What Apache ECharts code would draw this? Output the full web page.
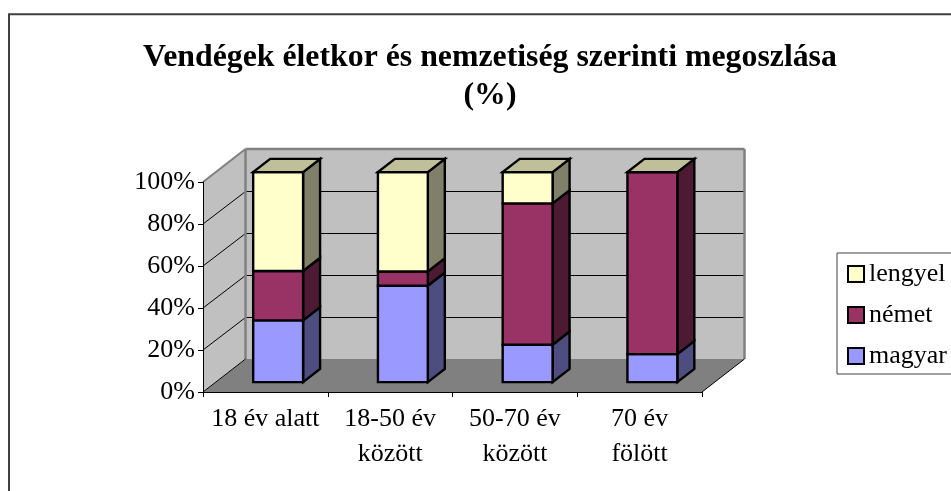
<!DOCTYPE html>
<html>
<head>
<meta charset="utf-8">
<style>html,body{margin:0;padding:0;background:#fff}#c{width:951px;height:491px}</style>
<script src="https://cdn.jsdelivr.net/npm/echarts@6/dist/echarts.min.js"></script>
</head>
<body>
<div id="c"></div>
<script>
const categories = ['18 év alatt', '18-50 év\nközött', '50-70 év\nközött', '70 év\nfölött'];
const magyar = [29.4, 45.9, 17.8, 13.3];
const nemet = [23.5, 6.8, 67.3, 86.7];
const lengyel = [47.1, 47.3, 14.9, 0];
const yTicks = [20, 40, 60, 80];

const FONT = '"Liberation Serif","Times New Roman",serif';
const DX = 42.5, DY = -33;

function poly(points, fill, stroke, lw) {
  return { type: 'polygon', shape: { points }, style: { fill, stroke, lineWidth: lw, lineJoin: 'miter' } };
}
function line(a, b, stroke, lw) {
  return { type: 'line', shape: { x1: a[0], y1: a[1], x2: b[0], y2: b[1] }, style: { stroke, lineWidth: lw } };
}

function renderWalls(params, api) {
  const band = api.size([1, 0])[0];
  const n = categories.length;
  const y0 = api.coord([0, 0])[1], y1 = api.coord([0, 100])[1];
  const xl = api.coord([0, 0])[0] - band / 2, xr = api.coord([n - 1, 0])[0] + band / 2;
  const kids = [
    poly([[xl + DX, y0 + DY], [xr + DX, y0 + DY], [xr, y0], [xl, y0]], '#808080', null, 0),
    poly([[xl, y1], [xl + DX, y1 + DY], [xl + DX, y0 + DY], [xl, y0]], '#C0C0C0', null, 0),
    poly([[xl + DX, y1 + DY], [xr + DX, y1 + DY], [xr + DX, y0 + DY], [xl + DX, y0 + DY]], '#C0C0C0', null, 0)
  ];
  yTicks.forEach(v => {
    const y = api.coord([0, v])[1];
    const yb = Math.round(y + DY) + 0.5;
    kids.push(line([xl, y], [xl + DX, yb], '#000', 1));
    kids.push(line([xl + DX, yb], [xr + DX, yb], '#000', 1));
  });
  kids.push(line([xl, y1], [xl + DX, y1 + DY], '#808080', 2));
  kids.push(line([xl + DX, y1 + DY], [xr + DX, y1 + DY], '#808080', 2.5));
  kids.push(line([xl + DX, y1 + DY], [xl + DX, y0 + DY], '#808080', 2.5));
  kids.push(line([xr + DX, y1 + DY], [xr + DX, y0 + DY], '#808080', 2.5));
  kids.push(line([xl, y0], [xl + DX, y0 + DY], '#000', 1));
  kids.push(line([xr, y0], [xr + DX, y0 + DY], '#000', 1));
  return { type: 'group', children: kids };
}

function segmentRenderer(front, side, top) {
  return function (params, api) {
    const band = api.size([1, 0])[0];
    const w = band * 0.4;
    const cx = api.coord([api.value(0), 0])[0];
    const yb = api.coord([0, api.value(1)])[1] + DY * 0.3;
    const yt = api.coord([0, api.value(2)])[1] + DY * 0.3;
    const x0 = cx - w / 2 + DX * 0.3, x1 = x0 + w;
    const dx = DX * 0.4, dy = DY * 0.4;
    const kids = [
      poly([[x1, yb], [x1 + dx, yb + dy], [x1 + dx, yt + dy], [x1, yt]], side, '#000', 2.4),
      poly([[x0, yb], [x1, yb], [x1, yt], [x0, yt]], front, '#000', 2.4)
    ];
    if (top) kids.push(poly([[x0, yt], [x1, yt], [x1 + dx, yt + dy], [x0 + dx, yt + dy]], top, '#000', 2.4));
    return { type: 'group', children: kids };
  };
}

function stackData(values, below) {
  return values.map((v, i) => [i, below[i], below[i] + v]);
}
const sum = (a, b) => a.map((v, i) => v + b[i]);
const zero = categories.map(() => 0);
const s1 = sum(zero, magyar), s2 = sum(s1, nemet);

const chart = echarts.init(document.getElementById('c'), null, { renderer: 'canvas' });
chart.setOption({
  animation: false,
  backgroundColor: '#fff',
  title: {
    text: 'Vendégek életkor és nemzetiség szerinti megoszlása\n(%)',
    left: 485, top: 33.5, textAlign: 'center',
    textStyle: { fontFamily: FONT, fontSize: 31.8, fontWeight: 'bold', color: '#000', lineHeight: 38 }
  },
  legend: {
    data: ['lengyel', 'német', 'magyar'],
    orient: 'vertical', left: 837, top: 253,
    padding: [8, 60, 5, 10],
    icon: 'rect',
    itemWidth: 16, itemHeight: 16, itemGap: 15,
    selectedMode: false,
    backgroundColor: '#fff', borderColor: '#404040', borderWidth: 1,
    textStyle: { fontFamily: FONT, fontSize: 26, color: '#000' }
  },
  grid: { left: 203, top: 182, width: 499, height: 210, containLabel: false },
  xAxis: {
    type: 'category', data: categories, z: 5,
    axisLine: { lineStyle: { color: '#000', width: 1 } },
    axisTick: { show: true, length: 5, lineStyle: { color: '#000' } },
    axisLabel: { fontFamily: FONT, fontSize: 26, color: '#000', lineHeight: 35, margin: 10, interval: 0 }
  },
  yAxis: {
    type: 'value', min: 0, max: 100, interval: 20, z: 5,
    axisLine: { show: true, lineStyle: { color: '#000', width: 1 } },
    axisTick: { show: true, length: 5, lineStyle: { color: '#000' } },
    splitLine: { show: false },
    axisLabel: { formatter: '{value}%', fontFamily: FONT, fontSize: 26, color: '#000', margin: 8 }
  },
  graphic: [{
    type: 'rect', silent: true, z: 100,
    shape: { x: 9, y: 14.3, width: 1500, height: 1000 },
    style: { fill: null, stroke: '#404040', lineWidth: 2 }
  }],
  series: [
    { type: 'custom', name: 'walls', z: 1, clip: false, renderItem: renderWalls, data: [[0, 0, 100]], encode: { x: 0, y: [1, 2] }, silent: true },
    { type: 'custom', name: 'magyar', z: 2, clip: false, renderItem: segmentRenderer('#9999FF', '#4D4D80'), encode: { x: 0, y: [1, 2] },
      itemStyle: { color: '#9999FF', borderColor: '#000', borderWidth: 2 }, data: stackData(magyar, zero) },
    { type: 'custom', name: 'német', z: 3, clip: false, renderItem: segmentRenderer('#993366', '#4D1A33'), encode: { x: 0, y: [1, 2] },
      itemStyle: { color: '#993366', borderColor: '#000', borderWidth: 2 }, data: stackData(nemet, s1) },
    { type: 'custom', name: 'lengyel', z: 4, clip: false, renderItem: segmentRenderer('#FFFFCC', '#80806A', '#BFBF99'), encode: { x: 0, y: [1, 2] },
      itemStyle: { color: '#FFFFCC', borderColor: '#000', borderWidth: 2 }, data: stackData(lengyel, s2) }
  ]
});
</script>
</body>
</html>
